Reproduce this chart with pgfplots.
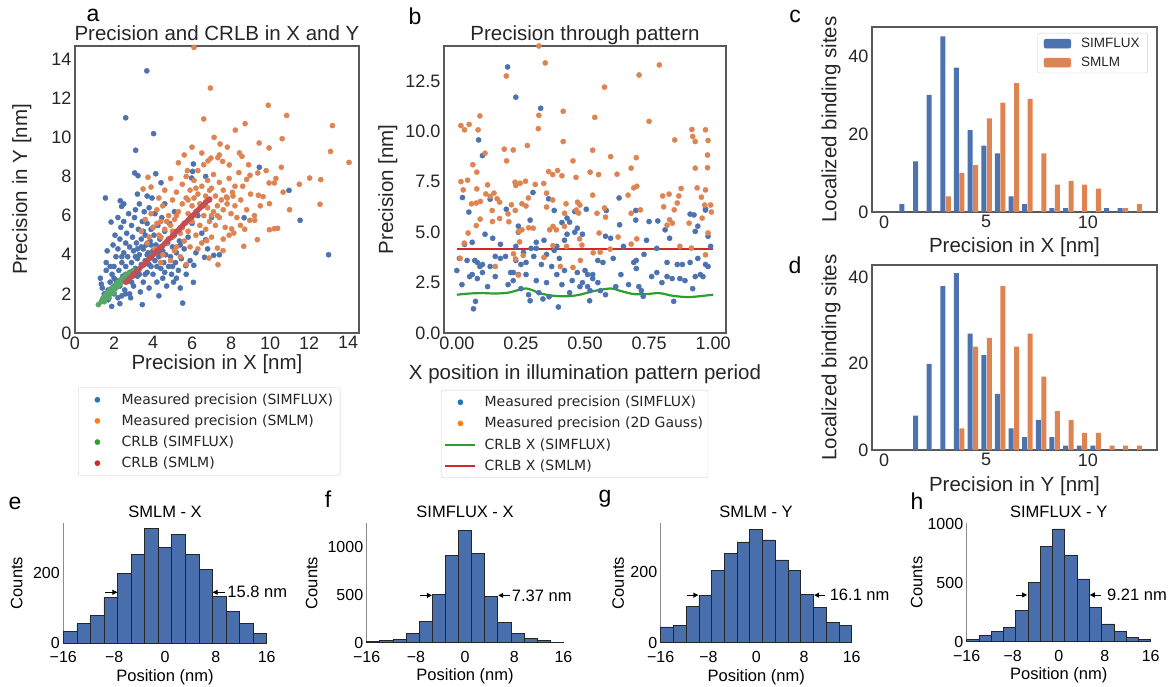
\documentclass[border=0pt]{standalone}
\usepackage{pgfplots}
\pgfplotsset{compat=1.18}
\usepackage{fontspec}
\setmainfont{Liberation Sans}
\newfontfamily\dejavu{DejaVu Sans}
\usetikzlibrary{arrows.meta}
\newcommand\fs[1]{\fontsize{#1}{#1}\selectfont}
\definecolor{sbblue}{RGB}{76,114,176}
\definecolor{sborange}{RGB}{221,132,82}
\definecolor{sbgreen}{RGB}{85,168,104}
\definecolor{sbred}{RGB}{196,78,82}
\definecolor{tabblue}{RGB}{31,119,180}
\definecolor{taborange}{RGB}{255,127,14}
\definecolor{tabgreen}{RGB}{44,160,44}
\definecolor{tabred}{RGB}{214,39,40}
\definecolor{histblue}{RGB}{72,110,172}
\definecolor{txt}{RGB}{38,38,38}
\tikzset{fw/.style={-{Triangle[length=5pt,width=5pt]}, line width=0.9pt, black}}
\pgfplotsset{
 topax/.style={scale only axis, anchor=south west, axis line style={black!65, line width=1.1pt},
   major tick length=0pt, tick style={draw=none},
   ticklabel style={font=\fs{18}, text=txt}, label style={font=\fs{20.5}, text=txt},
   xlabel style={anchor=center}, ylabel style={anchor=center},
   /pgf/number format/assume math mode=true, enlargelimits=false},
 toplegend/.style={legend cell align=left, legend style={draw=black!20, rounded corners=2pt, fill=white,
   font=\dejavu\fs{14}, text=txt, inner xsep=5pt, inner ysep=4pt, row sep=5pt}},
 sc/.style={only marks, mark=*, mark size=2.6pt, forget plot},
 botax/.style={scale only axis, anchor=south west, axis lines=left, axis line style={-, black!45, line width=1.3pt},
   x axis line style={draw=none}, major tick length=0pt, tick style={draw=none},
   ticklabel style={font=\fs{16}}, label style={font=\fs{16.5}},
   xticklabel style={inner ysep=0pt, yshift=-8pt}, yticklabel style={inner ysep=0pt},
   xlabel style={anchor=center}, ylabel style={anchor=center},
   xmin=-16, xmax=16, ymin=0, xtick={-16,-8,0,8,16}, xticklabels={−16,−8,0,8,16},
   enlargelimits=false, clip=false, xlabel={Position (nm)}, ylabel={Counts},
   /pgf/number format/assume math mode=true, /pgf/number format/set thousands separator={}},
 hist/.style={ybar interval, fill=histblue, draw=black!85, line width=0.7pt, forget plot},
}
\begin{document}
\begin{tikzpicture}[x=1pt,y=1pt]
\useasboundingbox (0,0) rectangle (1171,686);
% ---------------- panel a
\begin{axis}[topax, toplegend, at={(75pt,353pt)}, width=284pt, height=287pt,
  xmin=0, xmax=14.56, ymin=0, ymax=14.67, xtick={0,2,...,14}, ytick={0,2,...,14},
  xlabel={Precision in X [nm]}, ylabel={Precision in Y [nm]},
  xlabel style={at={(axis description cs:0.5,-0.11)}},
  ylabel style={at={(axis description cs:-0.187,0.5)}},
  legend style={at={(axis description cs:0.0106,-0.19)}, anchor=north west}]
\addplot[sc, sbblue] coordinates {
(3.68,13.4) (2.6,11.0) (4.03,10.19) (3.11,9.34) (3.06,8.18) (3.23,8.04) (4.14,8.14) (4.41,7.68)
(1.56,6.9) (2.32,6.76) (2.39,6.47) (1.85,5.67) (6.07,8.64) (6.03,8.26) (5.98,7.92) (6.7,8.0)
(9.45,8.47) (10.97,7.29) (8.67,5.89) (11.54,5.76) (13.0,4.0) (1.88,1.36) (3.45,1.45) (5.52,1.53)
(6.07,2.59) (6.09,3.46) (7.11,3.97) (6.64,3.87) (5.68,3.44) (6.7,4.77)
(1.3,2.8) (1.35,2.5) (1.6,3.2) (1.6,3.6) (1.65,4.2) (1.7,2.2) (1.8,2.6) (1.9,3.0) (1.95,4.5)
(2.0,3.4) (2.0,2.0) (2.05,5.0) (2.1,3.9) (2.1,2.7) (2.2,4.3) (2.2,1.8) (2.25,3.2) (2.3,4.8)
(2.3,2.4) (2.35,5.4) (2.4,3.6) (2.45,2.9) (2.5,4.1) (2.5,5.7) (2.55,2.2) (2.6,3.4) (2.6,4.6)
(2.65,5.1) (2.7,2.7) (2.7,3.9) (2.75,6.1) (2.8,4.4) (2.8,3.1) (2.85,1.8) (2.9,5.5) (2.9,3.6)
(2.95,4.9) (3.0,2.4) (3.0,4.2) (3.05,5.9) (3.1,3.3) (3.1,6.3) (3.15,4.6) (3.2,3.8) (3.2,2.9)
(3.25,5.3) (3.3,4.0) (3.3,6.6) (3.35,2.1) (3.4,4.8) (3.4,3.5) (3.45,5.7) (3.5,4.3) (3.5,2.6)
(3.55,6.2) (3.6,3.7) (3.6,5.0) (3.65,4.5) (3.7,3.1) (3.7,5.6) (3.75,4.1) (3.8,6.4) (3.8,2.3)
(3.85,4.7) (3.9,3.4) (3.9,5.3) (3.95,6.9) (4.0,4.2) (4.0,3.0) (4.05,5.0) (4.1,3.7) (4.1,6.1)
(4.15,4.5) (4.2,2.6) (4.25,5.5) (4.3,3.9) (4.3,1.9) (4.35,4.8) (4.4,3.3) (4.45,5.9) (4.5,4.2)
(4.5,2.8) (4.55,3.6) (4.6,5.2) (4.65,4.0) (4.7,2.4) (4.75,4.6) (4.8,3.4) (4.85,5.6) (4.9,3.9)
(4.95,3.0) (5.0,4.4) (5.05,2.6) (5.1,5.0) (5.15,3.6) (5.2,4.1) (5.3,3.2) (5.35,4.7) (5.4,2.3)
(5.45,3.8) (5.5,5.4) (5.6,4.3) (5.7,3.0) (5.8,4.9) (5.9,3.7) (6.0,5.6) (6.2,4.1) (6.3,6.0)
(6.5,5.1) (6.8,4.3) (7.0,5.9) (7.4,4.0) (1.5,2.0) (1.7,1.7) (2.3,1.5) (2.6,2.0) (1.4,2.3)
(1.9,2.3) (2.4,1.9) (2.0,2.8) (2.2,2.5) (1.8,3.4) (2.4,3.9) (2.6,3.0) (2.8,2.0) (2.9,2.6)
(3.0,3.0) (3.1,3.9) (3.2,4.3) (3.3,3.0) (3.4,4.4) (3.5,5.2) (3.6,3.0) (3.7,4.0) (3.8,3.5)
(3.9,4.5) (4.0,5.4) (4.2,3.4) (4.4,4.1) (4.6,3.1) (4.8,4.8) (5.0,3.4) (5.2,2.8) (5.4,4.5)
(2.5,6.6) (3.2,7.1) (3.7,7.0) (2.2,5.9) (4.6,6.6) (5.1,6.2)};
\addplot[sc, sborange] coordinates {
(6.1,14.6) (6.94,12.52) (6.6,10.94) (9.91,11.64) (10.85,11.12) (8.72,10.7) (8.22,10.37) (13.2,10.6)
(7.13,10.0) (7.44,9.66) (7.81,9.5) (9.44,9.71) (9.95,9.46) (10.62,9.93) (8.43,9.2) (8.56,9.03)
(13.1,9.28) (14.05,8.72) (6.82,8.8) (6.97,8.94) (7.32,8.96) (7.57,8.77) (7.91,8.59) (10.58,8.47)
(8.8,7.85) (8.97,8.06) (9.37,8.18) (9.95,7.67) (10.22,7.67) (12.03,7.92) (12.6,7.84) (10.67,7.2)
(9.4,7.04) (9.64,6.97) (9.97,6.61) (12.56,6.58) (3.74,7.96) (3.49,7.36) (3.9,7.46) (5.76,8.3)
(8.07,7.19) (7.76,6.95) (8.96,5.76) (9.21,5.76) (9.97,5.28) (10.22,5.33) (10.39,5.35) (8.48,5.5)
(8.03,5.32) (8.14,5.11) (9.35,4.77) (8.65,4.43) (7.59,4.21) (7.3,4.34) (6.87,3.83) (7.33,3.49)
(6.75,4.72) (3.4,5.2) (3.6,5.8) (3.7,4.6) (3.9,6.1) (4.0,5.4) (4.1,4.3) (4.2,6.3) (4.3,5.0)
(4.4,5.7) (4.5,4.0) (4.5,6.5) (4.6,5.3) (4.7,4.6) (4.8,6.0) (4.9,5.5) (4.9,3.7) (5.0,6.8)
(5.0,4.9) (5.1,5.8) (5.2,4.4) (5.2,7.2) (5.3,6.2) (5.4,5.1) (5.4,3.9) (5.5,6.6) (5.5,7.6)
(5.6,5.6) (5.6,4.7) (5.7,6.9) (5.7,8.0) (5.8,6.1) (5.8,5.2) (5.9,7.3) (5.9,4.4) (6.0,6.5)
(6.0,5.7) (6.1,7.8) (6.1,6.9) (6.2,5.0) (6.2,6.2) (6.3,7.1) (6.3,8.3) (6.4,5.5) (6.4,6.6)
(6.5,7.5) (6.5,4.6) (6.6,6.0) (6.6,8.6) (6.7,7.0) (6.7,5.3) (6.8,6.4) (6.8,7.8) (6.9,5.7)
(6.9,6.8) (7.0,7.4) (7.0,4.9) (7.1,6.2) (7.1,8.1) (7.2,5.5) (7.2,7.0) (7.3,6.5) (7.4,7.7)
(7.4,5.9) (7.5,6.8) (7.6,6.3) (7.6,7.3) (7.7,5.4) (7.8,6.6) (7.9,7.9) (8.0,6.1) (8.1,7.0)
(8.2,6.5) (8.3,5.9) (8.4,8.2) (8.5,6.8) (8.6,7.5) (8.8,6.3) (9.0,7.1) (9.2,6.0) (9.5,6.5)
(9.8,8.3) (10.3,7.9) (11.0,6.3) (11.5,7.6) (4.6,7.3) (4.9,7.9) (5.3,8.7) (5.6,9.1) (6.0,9.5)
(4.3,6.9) (5.1,4.2) (4.4,3.6) (5.7,3.5) (6.3,4.3) (7.6,4.8) (7.9,5.0) (8.7,5.3) (6.5,9.2)
(7.4,9.1) (5.2,6.0) (5.5,5.4) (6.1,6.0) (6.7,6.7) (7.0,6.0) (7.3,6.0) (7.8,6.9) (8.2,7.5)
(8.9,8.6) (3.8,4.9) (4.4,4.9) (4.7,5.7) (5.0,5.2) (4.2,5.6) (5.8,6.8) (6.2,7.4) (6.9,7.3)};
\addplot[sc, sbgreen] coordinates {
(1.2,1.45) (1.35,1.6) (1.4,1.7) (1.45,1.8) (1.5,1.75) (1.55,1.9) (1.6,1.85) (1.6,2.0) (1.65,1.95)
(1.7,2.05) (1.7,1.9) (1.75,2.15) (1.8,2.0) (1.8,2.2) (1.85,2.1) (1.9,2.3) (1.9,2.15) (1.95,2.25)
(2.0,2.4) (2.0,2.2) (2.05,2.35) (2.1,2.5) (2.1,2.3) (2.15,2.45) (2.2,2.6) (2.2,2.4) (2.25,2.55)
(2.3,2.7) (2.3,2.5) (2.35,2.6) (2.4,2.75) (2.45,2.7) (2.5,2.85) (2.5,2.65) (2.55,2.8) (2.6,2.95)
(2.65,2.85) (2.7,3.0) (2.75,2.95) (2.8,3.05) (2.85,3.1) (2.9,3.05) (2.95,3.15) (3.0,3.2)
(1.5,1.6) (1.75,1.8) (2.0,2.05)};
\addplot[sc, sbred] coordinates {
(2.6,2.6) (2.7,2.68) (2.8,2.8) (2.9,2.88) (3.0,3.0) (3.1,3.08) (3.2,3.2) (3.3,3.28) (3.4,3.4)
(3.5,3.47) (3.6,3.6) (3.7,3.66) (3.8,3.8) (3.9,3.87) (4.0,3.98) (4.1,4.08) (4.2,4.2) (4.3,4.27)
(4.4,4.4) (4.5,4.46) (4.6,4.58) (4.7,4.68) (4.8,4.8) (4.9,4.86) (5.0,4.98) (5.1,5.08) (5.2,5.2)
(5.3,5.26) (5.4,5.38) (5.5,5.48) (5.6,5.6) (5.7,5.66) (5.8,5.78) (5.9,5.88) (6.0,5.98) (6.1,6.06)
(6.2,6.18) (6.3,6.28) (6.4,6.38) (6.5,6.46) (6.6,6.56) (6.7,6.66) (6.8,6.76) (6.9,6.84)
(2.65,2.62) (2.95,2.9) (3.25,3.22) (3.55,3.5) (3.85,3.83) (4.15,4.12) (4.45,4.42) (4.75,4.72)
(5.05,5.02) (5.35,5.32) (5.65,5.62) (5.95,5.9) (6.25,6.22) (6.55,6.5) (6.85,6.8)};
\addlegendimage{legend image code/.code={\path (0pt,0pt) (36pt,0pt); \fill[tabblue] (14pt,0pt) circle (2.6pt);}}
\addlegendentry{Measured precision (SIMFLUX)}
\addlegendimage{legend image code/.code={\path (0pt,0pt) (36pt,0pt); \fill[taborange] (14pt,0pt) circle (2.6pt);}}
\addlegendentry{Measured precision (SMLM)}
\addlegendimage{legend image code/.code={\path (0pt,0pt) (36pt,0pt); \fill[tabgreen] (14pt,0pt) circle (2.6pt);}}
\addlegendentry{CRLB (SIMFLUX)}
\addlegendimage{legend image code/.code={\path (0pt,0pt) (36pt,0pt); \fill[tabred] (14pt,0pt) circle (2.6pt);}}
\addlegendentry{CRLB (SMLM)}
\end{axis}
% ---------------- panel b
\begin{axis}[topax, toplegend, at={(444pt,353pt)}, width=282pt, height=287pt,
  xmin=-0.05, xmax=1.05, ymin=0, ymax=14.24,
  xtick={0,0.25,0.5,0.75,1}, xticklabels={0.00,0.25,0.50,0.75,1.00},
  ytick={0,2.5,5,7.5,10,12.5}, yticklabels={0.0,2.5,5.0,7.5,10.0,12.5},
  xlabel={X position in illumination pattern period}, ylabel={Precision [nm]},
  xlabel style={at={(axis description cs:0.5,-0.143)}},
  ylabel style={at={(axis description cs:-0.199,0.5)}},
  legend style={at={(axis description cs:-0.0106,-0.1986)}, anchor=north west, inner xsep=3pt}]
\addplot[sc, sbblue] coordinates {
(0.198,13.2) (0.23,11.7) (0.327,11.15) (0.085,9.58) (0.1,8.8) (0.022,6.72) (0.047,6.0) (0.193,6.14)
(0.297,6.97) (0.13,6.64) (0.358,6.66) (0.38,6.08) (0.41,5.48) (0.43,5.7) (0.46,6.03) (0.505,6.14)
(0.633,6.7) (0.583,6.08) (0.698,6.08) (0.75,5.53) (0.784,5.56) (0.8125,5.12) (0.925,5.86) (0.97,6.16)
(0.93,5.04) (0.635,5.37) (0.698,5.6) (0.065,1.2) (0.073,1.57) (0.286,1.6) (0.396,1.29) (0.518,1.6)
(0.846,1.57) (0.336,1.69) (0.58,1.9) (0.727,1.82)
(0.0,3.1) (0.01,3.7) (0.02,2.4) (0.03,4.4) (0.04,3.6) (0.05,2.8) (0.06,4.5) (0.06,2.9) (0.07,3.6)
(0.08,3.5) (0.08,2.7) (0.09,3.3) (0.1,3.0) (0.1,3.4) (0.11,4.9) (0.12,2.3) (0.13,3.3) (0.14,4.7)
(0.15,3.8) (0.15,2.8) (0.17,4.4) (0.19,3.8) (0.21,3.0) (0.22,2.6) (0.22,3.0) (0.23,3.6) (0.23,4.3)
(0.24,2.9) (0.24,5.3) (0.25,3.4) (0.25,2.2) (0.26,4.0) (0.27,3.5) (0.27,2.9) (0.28,1.9) (0.29,4.2)
(0.3,3.8) (0.31,4.5) (0.31,2.6) (0.32,2.0) (0.33,3.4) (0.34,4.6) (0.35,3.9) (0.35,2.5) (0.36,1.8)
(0.37,3.3) (0.38,4.1) (0.39,2.9) (0.4,3.7) (0.41,2.4) (0.42,3.1) (0.43,4.9) (0.44,2.0) (0.45,2.6)
(0.46,5.0) (0.47,3.0) (0.48,2.3) (0.49,2.5) (0.5,3.1) (0.51,2.9) (0.52,2.1) (0.53,2.7) (0.55,3.6)
(0.57,3.5) (0.58,4.8) (0.6,4.7) (0.61,3.7) (0.62,2.3) (0.64,2.9) (0.65,4.3) (0.67,2.4) (0.69,3.5)
(0.7,3.2) (0.7,3.6) (0.71,2.3) (0.72,2.1) (0.73,3.9) (0.74,4.6) (0.76,2.8) (0.78,3.0) (0.8,2.5)
(0.82,3.5) (0.82,2.8) (0.83,4.7) (0.84,2.7) (0.86,3.4) (0.87,2.7) (0.88,3.4) (0.89,2.6) (0.91,3.5)
(0.92,2.2) (0.93,2.8) (0.94,3.7) (0.95,2.9) (0.96,2.8) (0.97,3.4) (0.98,3.3) (0.99,4.3) (0.98,4.8)
(0.97,6.1) (0.94,5.3) (0.91,5.9) (0.44,5.5) (0.47,5.2) (0.49,4.9) (0.42,4.6) (0.39,4.3) (0.31,4.2)
(0.286,5.6) (0.24,5.0) (0.17,3.7) (0.2,2.4) (0.53,2.9) (0.55,2.5) (0.51,2.3) (0.56,2.1) (0.78,4.2)};
\addplot[sc, sborange] coordinates {
(0.32,14.24) (0.345,13.4) (0.193,12.75) (0.576,12.2) (0.711,12.8) (0.79,13.3) (0.75,10.5) (0.538,10.7)
(0.415,11.0) (0.32,10.8) (0.318,10.14) (0.09,10.77) (0.016,10.29) (0.048,10.35) (0.03,10.08) (0.083,10.08)
(0.85,9.58) (0.917,10.1) (0.92,9.75) (0.93,9.5) (0.97,10.08) (0.98,9.55) (0.415,9.5) (0.275,9.3)
(0.185,9.12) (0.22,9.08) (0.53,9.07) (0.6,8.75) (0.7,8.7) (0.11,8.92) (0.194,8.54) (0.453,8.54)
(0.0625,8.35) (0.68,8.18) (0.93,8.18) (0.978,8.2) (0.978,8.83) (0.52,7.98) (0.553,7.86) (0.625,7.88)
(0.078,7.98) (0.016,7.51) (0.042,7.58) (0.268,7.53) (0.247,7.43) (0.227,7.48) (0.358,8.01) (0.374,7.86)
(0.393,8.06) (0.41,7.8) (0.465,7.72) (0.339,7.42) (0.306,7.37) (0.23,7.32) (0.702,7.28) (0.69,7.2)
(0.875,7.17) (0.9375,7.2) (0.97,7.1) (0.025,7.1) (0.078,7.15) (0.12,7.35) (0.145,6.94) (0.113,6.9)
(0.13,6.78) (0.157,6.66) (0.076,6.45) (0.092,6.53) (0.057,6.41) (0.138,6.08) (0.167,6.49) (0.213,6.36)
(0.254,6.41) (0.228,6.08) (0.27,6.3) (0.279,6.7) (0.35,6.94) (0.374,6.6) (0.35,6.25) (0.426,6.41)
(0.42,5.94) (0.471,6.49) (0.48,6.35) (0.466,6.1) (0.475,5.95) (0.53,6.84) (0.547,5.94) (0.576,6.2)
(0.58,5.75) (0.668,6.84) (0.68,5.94) (0.716,6.11) (0.807,6.26) (0.803,6.8) (0.828,6.89) (0.866,6.8)
(0.86,6.45) (0.848,6.11) (0.967,6.35) (0.99,6.35) (0.993,6.0) (0.954,6.74) (0.841,5.45) (0.82,5.35)
(0.83,5.62) (0.906,5.45) (0.957,5.7) (0.98,4.96) (0.97,3.88) (0.915,4.21) (0.87,4.3) (0.68,4.41)
(0.702,4.67) (0.629,4.76) (0.555,4.96) (0.598,4.16) (0.559,4.01) (0.532,3.98) (0.482,3.6) (0.453,3.25)
(0.404,3.3) (0.34,3.75) (0.242,5.04) (0.245,4.52) (0.259,3.85) (0.229,3.67) (0.221,3.93) (0.203,5.52)
(0.2,5.91) (0.167,5.68) (0.139,5.53) (0.091,5.65) (0.076,5.33) (0.044,4.96) (0.029,4.46) (0.013,3.7)
(0.15,3.3) (0.24,2.87) (0.254,5.12) (0.298,5.2) (0.28,5.22) (0.375,5.29) (0.388,5.12) (0.362,5.12)
(0.428,4.3) (0.42,5.29) (0.479,4.67) (0.488,4.36) (0.375,4.33)};
\addplot[tabred, line width=2.2pt, forget plot] coordinates {(0,4.18) (1,4.18)};
\addplot[tabgreen, line width=2.2pt, smooth, forget plot] coordinates {
(0,1.9) (0.05,1.96) (0.1,1.98) (0.15,1.96) (0.2,2.0) (0.245,2.15) (0.27,2.21) (0.3,2.1) (0.32,1.98)
(0.375,1.85) (0.43,1.82) (0.48,1.9) (0.53,2.07) (0.6,2.21) (0.635,2.1) (0.69,1.93) (0.74,1.93)
(0.79,1.98) (0.84,1.85) (0.9,1.78) (0.95,1.83) (1.0,1.9)};
\addlegendimage{legend image code/.code={\path (0pt,0pt) (38pt,0pt); \fill[tabblue] (16pt,0pt) circle (2.6pt);}}
\addlegendentry{Measured precision (SIMFLUX)}
\addlegendimage{legend image code/.code={\path (0pt,0pt) (38pt,0pt); \fill[taborange] (16pt,0pt) circle (2.6pt);}}
\addlegendentry{Measured precision (2D Gauss)}
\addlegendimage{legend image code/.code={\path (0pt,0pt) (38pt,0pt); \draw[tabgreen, line width=2pt] (1pt,0pt) -- (31pt,0pt);}}
\addlegendentry{CRLB X (SIMFLUX)}
\addlegendimage{legend image code/.code={\path (0pt,0pt) (38pt,0pt); \draw[tabred, line width=2pt] (1pt,0pt) -- (31pt,0pt);}}
\addlegendentry{CRLB X (SMLM)}
\end{axis}
% ---------------- panel c
\begin{axis}[topax, at={(872pt,474pt)}, width=285pt, height=185pt,
  xmin=-0.6, xmax=13.4, ymin=0, ymax=47.4, xtick={0,5,10}, ytick={0,20,40},
  xlabel={Precision in X [nm]}, ylabel={Localized binding sites},
  xlabel style={at={(axis description cs:0.5,-0.189)}},
  ylabel style={at={(axis description cs:-0.144,0.5)}},
  legend cell align=left,
  legend style={at={(axis description cs:0.968,0.9676)}, anchor=north east, draw=black!20, rounded corners=2pt,
    font=\fs{13.5}, text=txt, inner xsep=6pt, inner ysep=3pt, row sep=4pt}]
\addplot[ybar, bar width=0.245, bar shift=0pt, fill=sbblue, draw=none, forget plot] coordinates {
(0.87,2) (1.54,13) (2.21,30) (2.88,45) (3.55,37) (4.22,21) (4.89,17) (5.56,15) (6.23,4) (6.90,2)
(8.24,1) (8.91,1) (10.92,1) (11.59,1)};
\addplot[ybar, bar width=0.245, bar shift=0pt, fill=sborange, draw=none, forget plot] coordinates {
(3.15,4) (3.82,10) (4.49,12) (5.16,24) (5.83,28) (6.50,33) (7.17,29) (7.84,15) (8.51,7) (9.18,8)
(9.85,7) (10.52,6) (11.86,1) (12.53,2)};
\addlegendimage{legend image code/.code={\path (0pt,0pt) (35pt,0pt); \fill[sbblue] (0pt,-4.5pt) rectangle (27pt,4.5pt);}}
\addlegendentry{SIMFLUX}
\addlegendimage{legend image code/.code={\path (0pt,0pt) (35pt,0pt); \fill[sborange] (0pt,-4.5pt) rectangle (27pt,4.5pt);}}
\addlegendentry{SMLM}
\end{axis}
% ---------------- panel d
\begin{axis}[topax, at={(872pt,236pt)}, width=285pt, height=185pt,
  xmin=-0.6, xmax=13.4, ymin=0, ymax=42.9, xtick={0,5,10}, ytick={0,20,40},
  xlabel={Precision in Y [nm]}, ylabel={Localized binding sites},
  xlabel style={at={(axis description cs:0.5,-0.194)}},
  ylabel style={at={(axis description cs:-0.144,0.5)}}]
\addplot[ybar, bar width=0.245, bar shift=0pt, fill=sbblue, draw=none, forget plot] coordinates {
(1.54,8) (2.21,20) (2.88,38) (3.55,41) (4.22,27) (4.89,22) (5.56,13) (6.23,5) (6.90,3) (7.57,7)
(8.24,3) (8.91,1) (9.58,1) (10.25,1)};
\addplot[ybar, bar width=0.245, bar shift=0pt, fill=sborange, draw=none, forget plot] coordinates {
(3.82,5) (4.49,24) (5.16,26) (5.83,38) (6.50,24) (7.17,27) (7.84,17) (8.51,9) (9.18,7) (9.85,4)
(10.52,4) (11.19,1) (11.86,1) (12.53,1)};
\end{axis}
% ---------------- panel e
\begin{axis}[botax, at={(63.3pt,43pt)}, width=203.4pt, height=120pt, ymax=343, ytick={0,200},
  xlabel style={at={(axis description cs:0.5,-0.286)}},
  ylabel style={at={(axis description cs:-0.229,0.5)}}]
\addplot[hist] coordinates {(-16,33) (-13.8667,55) (-11.7333,78) (-9.6,130) (-7.4667,200) (-5.3333,252)
(-3.2,328) (-1.0667,273) (1.0667,310) (3.2,252) (5.3333,210) (7.4667,133) (9.6,90) (11.7333,55)
(13.8667,27) (16,0)};
\draw[fw] (axis cs:-9.4,145) -- (axis cs:-7.5,145);
\draw[fw] (axis cs:9.4,145) -- (axis cs:7.5,145);
\node[anchor=west, font=\fs{16.5}, inner sep=0pt] at (axis cs:9.8,145) {15.8 nm};
\end{axis}
% ---------------- panel f
\begin{axis}[botax, at={(366.7pt,43.3pt)}, width=196.7pt, height=119.4pt, ymax=1244, ytick={0,500,1000},
  xlabel style={at={(axis description cs:0.5,-0.285)}},
  ylabel style={at={(axis description cs:-0.28,0.5)}}]
\addplot[hist] coordinates {(-16,14) (-13.8667,28) (-11.7333,38) (-9.6,94) (-7.4667,219) (-5.3333,503)
(-3.2,913) (-1.0667,1170) (1.0667,930) (3.2,479) (5.3333,212) (7.4667,97) (9.6,45) (11.7333,21)
(13.8667,7) (16,0)};
\draw[fw] (axis cs:-7.3,493) -- (axis cs:-5.4,493);
\draw[fw] (axis cs:7.3,493) -- (axis cs:5.4,493);
\node[anchor=west, font=\fs{16.5}, inner sep=0pt] at (axis cs:7.6,493) {7.37 nm};
\end{axis}
% ---------------- panel g
\begin{axis}[botax, at={(660.7pt,43.3pt)}, width=191pt, height=119.4pt, ymax=339, ytick={0,200},
  xlabel style={at={(axis description cs:0.5,-0.285)}},
  ylabel style={at={(axis description cs:-0.222,0.5)}}]
\addplot[hist] coordinates {(-16,45) (-13.8667,48) (-11.7333,102) (-9.6,134) (-7.4667,205) (-5.3333,253)
(-3.2,286) (-1.0667,322) (1.0667,292) (3.2,235) (5.3333,204) (7.4667,137) (9.6,100) (11.7333,57)
(13.8667,48) (16,0)};
\draw[fw] (axis cs:-11.6,135) -- (axis cs:-9.7,135);
\draw[fw] (axis cs:11.6,135) -- (axis cs:9.7,135);
\node[anchor=west, font=\fs{16.5}, inner sep=0pt] at (axis cs:12.3,135) {16.1 nm};
\end{axis}
% ---------------- panel h
\begin{axis}[botax, at={(966.7pt,44.3pt)}, width=184pt, height=118.4pt, ymax=1008, ytick={0,500,1000},
  xlabel style={at={(axis description cs:0.5,-0.287)}},
  ylabel style={at={(axis description cs:-0.272,0.5)}}]
\addplot[hist] coordinates {(-16,20) (-13.8667,51) (-11.7333,91) (-9.6,125) (-7.4667,264) (-5.3333,503)
(-3.2,810) (-1.0667,960) (1.0667,733) (3.2,534) (5.3333,290) (7.4667,151) (9.6,85) (11.7333,34)
(13.8667,20) (16,0)};
\draw[fw] (axis cs:-7.4,398) -- (axis cs:-5.5,398);
\draw[fw] (axis cs:7.3,398) -- (axis cs:5.4,398);
\node[anchor=west, font=\fs{16.5}, inner sep=0pt] at (axis cs:8.4,398) {9.21 nm};
\end{axis}
% titles
\node[anchor=base, font=\fs{20.5}, text=txt, inner sep=0pt] at (217,645) {Precision and CRLB in X and Y};
\node[anchor=base, font=\fs{20.5}, text=txt, inner sep=0pt] at (585,645) {Precision through pattern};
\node[anchor=base, font=\fs{16.5}, inner sep=0pt] at (165,168) {SMLM - X};
\node[anchor=base, font=\fs{16.5}, inner sep=0pt] at (465,168) {SIMFLUX - X};
\node[anchor=base, font=\fs{16.5}, inner sep=0pt] at (756,168) {SMLM - Y};
\node[anchor=base, font=\fs{16.5}, inner sep=0pt] at (1058.7,168) {SIMFLUX - Y};
% panel letters
\node[font=\fs{23}, inner sep=0pt] at (93,671) {a};
\node[font=\fs{23}, inner sep=0pt] at (415,670) {b};
\node[font=\fs{23}, inner sep=0pt] at (795,670) {c};
\node[font=\fs{23}, inner sep=0pt] at (795,421) {d};
\node[font=\fs{23}, inner sep=0pt] at (15,183) {e};
\node[font=\fs{23}, inner sep=0pt] at (328,187) {f};
\node[font=\fs{23}, inner sep=0pt] at (605,187) {g};
\node[font=\fs{23}, inner sep=0pt] at (917,185) {h};
\end{tikzpicture}
\end{document}
